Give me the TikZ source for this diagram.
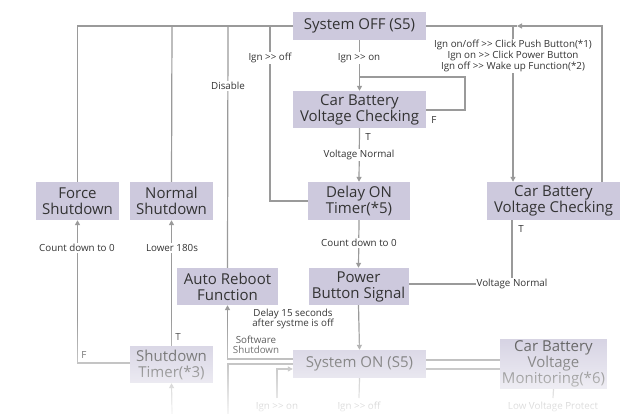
\documentclass[tikz,border=0pt]{standalone}
\usepackage{fontspec}
\setmainfont{Open Sans}
\usetikzlibrary{arrows.meta,fadings}
\definecolor{boxfill}{HTML}{CDC9DD}
\definecolor{linec}{HTML}{9A9A9A}
\definecolor{txt}{HTML}{333333}
\newcommand\dgt{>\kern0pt>}
\tikzfading[name=fadedown, top color=transparent!100, bottom color=transparent!8]
\tikzset{
  box/.style={fill=boxfill, text=txt, inner sep=0pt, align=center,
    font=\fontsize{15}{16}\selectfont},
  conn/.style={draw=linec, line width=1.2pt},
  arr/.style={conn, -{Triangle[width=5pt,length=5pt]}},
  lbl/.style={fill=white, text=txt, inner sep=1pt, align=center,
    font=\fontsize{9.8}{11}\selectfont},
  plain/.style={text=txt, inner sep=1pt, align=center,
    font=\fontsize{9.8}{10.5}\selectfont},
}
\begin{document}
\begin{tikzpicture}[x=1pt,y=-1pt]
\useasboundingbox (0,0) rectangle (634,414);
% boxes
\node[box, minimum width=133pt, minimum height=28pt] (off) at (359.5,26) {System OFF (S5)};
\node[box, minimum width=133pt, minimum height=37pt] (cbm) at (359.5,109.5) {Car Battery\\Voltage Checking};
\node[box, minimum width=102pt, minimum height=38pt] (delay) at (359,201) {Delay ON\\Timer(*5)};
\node[box, minimum width=100pt, minimum height=37pt] (power) at (358.5,286.5) {Power\\Button Signal};
\node[box, minimum width=133pt, minimum height=38pt] (cbr) at (553.5,201) {Car Battery\\Voltage Checking};
\node[box, minimum width=83pt, minimum height=38pt] (force) at (77.5,201) {Force\\Shutdown};
\node[box, minimum width=83pt, minimum height=38pt] (normal) at (171.5,201) {Normal\\Shutdown};
\node[box, minimum width=101pt, minimum height=37pt] (reboot) at (227.5,286.5) {Auto Reboot\\Function};
\node[box, minimum width=83pt, minimum height=37pt] (stimer) at (171.5,364.5) {Shutdown\\Timer(*3)};
\node[box, minimum width=133pt, minimum height=28pt] (son) at (359.5,364) {System ON (S5)};
\node[box, minimum width=107pt, minimum height=50pt] (mon) at (553.5,364) {Car Battery\\Voltage\\Monitoring(*6)};
% coordinates
\coordinate (tn) at (172,26);
\coordinate (tr) at (228,26);
\coordinate (td) at (270,26);
\coordinate (ta) at (517,26);
\coordinate (tb) at (513,26);
\coordinate (loopj) at (359,77);
\coordinate (loopr) at (465,77);
\coordinate (fbot) at (77,363);
\coordinate (rbot) at (228,359);
\coordinate (bl) at (228,364);
\coordinate (bb) at (228,414);
\coordinate (ion) at (277,398);
\coordinate (ionc) at (277,369);
\coordinate (sbot) at (172,414);
\coordinate (cbrj) at (512,284);
% top connectors
\draw[conn] (force.north) |- (off.west);
\draw[conn] (normal.north) -- (tn);
\draw[conn] (reboot.north) -- (tr);
\node[lbl] at (228,86) {Disable};
\draw[conn] (delay.west) -| (td);
\node[lbl] at (270,58) {Ign \dgt{} off};
\draw[arr] (off.south) -- (cbm.north);
\node[lbl] at (359,58) {Ign \dgt{} on};
\draw[conn] (cbm.east |- 0,110) -| (loopr) -- (loopj);
\node[plain] at (434,120) {F};
\draw[arr] (cbm.south) -- (delay.north);
\node[lbl] at (359,155) {Voltage Normal};
\node[plain] at (368,137) {T};
\draw[arr] (delay.south) -- (power.north);
\node[lbl] at (359,243) {Count down to 0};
\draw[arr] (power.south) -- (son.north);
\node[plain] at (293,319) {Delay 15 seconds\\after systme is off};
% right side
\draw[arr] (cbr.north -| 602,0) |- (ta);
\draw[conn] (ta) -- (off.east);
\draw[arr] (tb) -- (cbr.north -| tb);
\node[lbl] at (513,56) {Ign on/off \dgt{} Click Push Button(*1)\\Ign on \dgt{} Click Power Button\\Ign off \dgt{} Wake up Function(*2)};
\draw[conn] (cbr.south -| cbrj) -- (cbrj) -- (power.east |- cbrj);
\node[lbl] at (cbrj) {Voltage Normal};
\node[plain] at (521,229) {T};
% left side
\draw[arr] (stimer.west |- fbot) -| (force.south);
\node[lbl] at (77,248) {Count down to 0};
\node[plain] at (84,355) {F};
\draw[arr] (stimer.north) -- (normal.south);
\node[lbl] at (172,248) {Lower 180s};
\node[plain] at (178,337) {T};
\draw[arr] (son.west |- rbot) -| (reboot.south);
\node[plain] at (256,345) {Software\\Shutdown};
\draw[conn] (son.west |- bl) -- (bl) -- (bb);
\draw[arr] (ion) -- (ionc) -- (son.west |- ionc);
\node[plain] at (277,407) {Ign \dgt{} on};
\draw[arr] (sbot) -- (stimer.south);
\draw[conn] (son.south) -- (359,398);
\node[plain] at (359,407) {Ign \dgt{} off};
\draw[conn] (son.east |- 0,360) -- (mon.west |- 0,360);
\draw[conn] (son.east |- 0,369) -- (mon.west |- 0,369);
\draw[conn] (mon.south) -- (553,398);
\node[plain] at (553,407) {Low Voltage Protect};
% fade overlay
\fill[white, path fading=fadedown] (0,318) rectangle (634,414);
\end{tikzpicture}
\end{document}
